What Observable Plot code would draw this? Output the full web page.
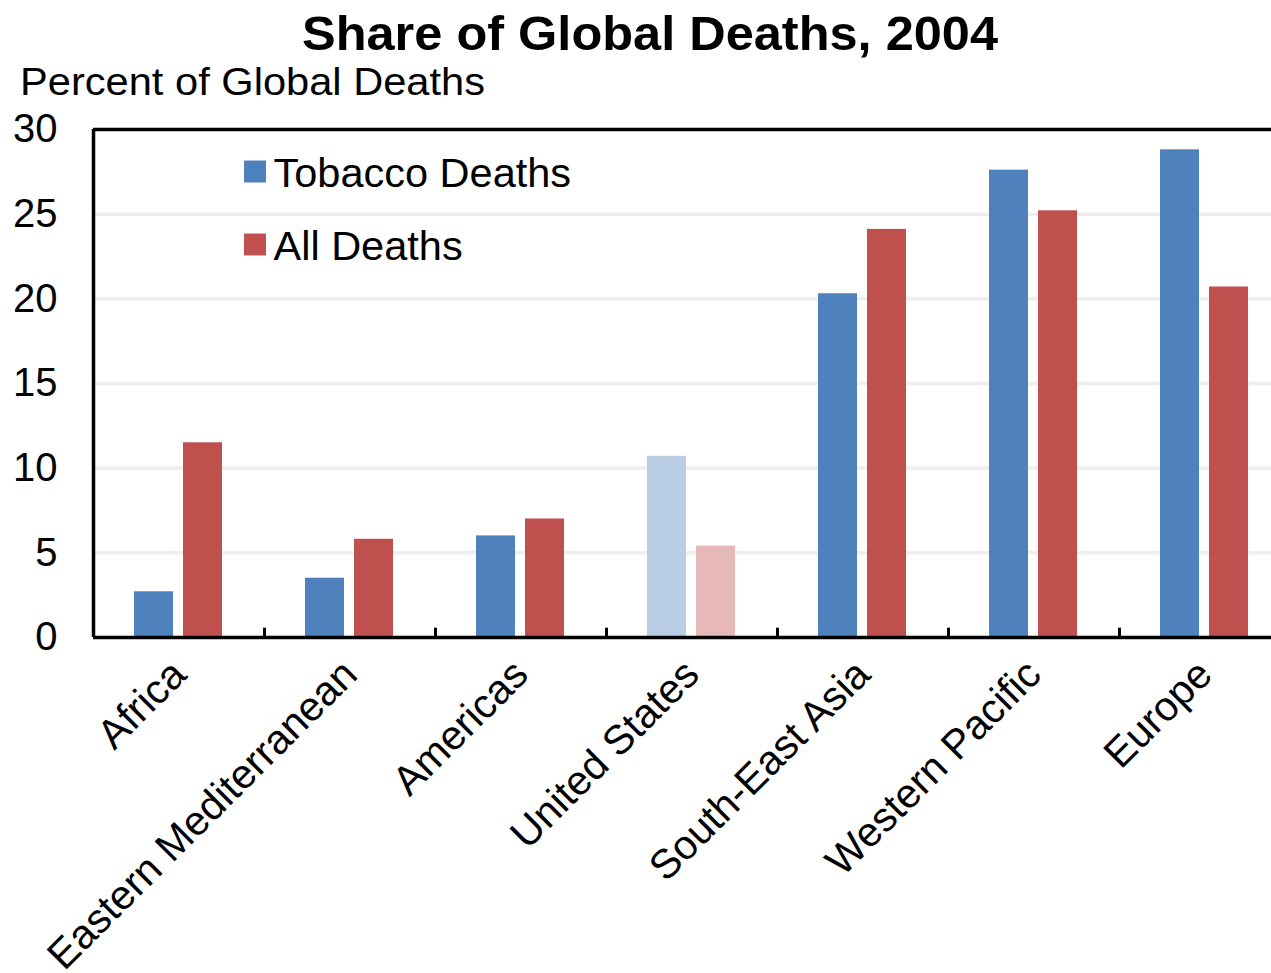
<!DOCTYPE html>
<html>
<head>
<meta charset="utf-8">
<script src="https://cdn.jsdelivr.net/npm/d3@7"></script>
<script src="https://cdn.jsdelivr.net/npm/@observablehq/plot@0.6"></script>
<style>
  body { margin: 0; background: white; font-family: "Liberation Sans", Arial, sans-serif; }
  #wrap { width: 1271px; height: 973px; overflow: hidden; position: relative; }
  #head { display: block; }
  #chart svg { overflow: hidden; }
</style>
</head>
<body>
<div id="wrap">
  <svg id="head" width="1271" height="105">
    <text id="title" x="650" y="50" text-anchor="middle" font-size="49" font-weight="bold" fill="#000" textLength="696" lengthAdjust="spacingAndGlyphs">Share of Global Deaths, 2004</text>
    <text id="ylab" x="20" y="95" font-size="38" fill="#000" textLength="465" lengthAdjust="spacingAndGlyphs">Percent of Global Deaths</text>
  </svg>
  <div id="chart"></div>
</div>
<script>
const regions = ["Africa", "Eastern Mediterranean", "Americas", "United States", "South-East Asia", "Western Pacific", "Europe"];
const tobacco = [2.7, 3.5, 6.0, 10.7, 20.3, 27.6, 28.8];
const allDeaths = [11.5, 5.8, 7.0, 5.4, 24.1, 25.2, 20.7];
const seriesNames = ["Tobacco Deaths", "All Deaths"];
const seriesColors = ["#4F81BD", "#C0504D"];
const fadedColors = ["#B9CDE5", "#E6B9B8"];
const highlightRegion = "United States";
const yTicks = [0, 5, 10, 15, 20, 25, 30];
const gridTicks = [5, 10, 15, 20, 25];

const bw = 171;
const left = 93;
const rows = regions.map((r, i) => ({
  region: r,
  tobacco: tobacco[i],
  all: allDeaths[i],
  cT: r === highlightRegion ? fadedColors[0] : seriesColors[0],
  cA: r === highlightRegion ? fadedColors[1] : seriesColors[1]
}));

const chart = Plot.plot({
  width: 1271,
  height: 868,
  marginTop: 24,
  marginBottom: 336,
  marginLeft: left,
  marginRight: 0,
  style: { fontFamily: '"Liberation Sans", Arial, sans-serif', fontSize: "40px", color: "#000", background: "white" },
  x: { domain: regions, range: [left, left + bw * regions.length], padding: 0 },
  y: { domain: [0, 30] },
  marks: [
    Plot.ruleY(gridTicks, { stroke: "#eeeeee", strokeWidth: 3.5 }),
    Plot.barY(rows, { x: "region", y: "tobacco", fill: "cT", insetLeft: 41, insetRight: bw - 80 }),
    Plot.barY(rows, { x: "region", y: "all", fill: "cA", insetLeft: 90, insetRight: bw - 129 }),
    Plot.ruleY([0, 30], { stroke: "#000", strokeWidth: 3.5 }),
    Plot.ruleX([regions[0]], { dx: -bw / 2, stroke: "#000", strokeWidth: 3.5 }),
    Plot.ruleX(regions.slice(1), { dx: -bw / 2, y1: 0, y2: 0.55, stroke: "#000", strokeWidth: 3 }),
    Plot.ruleY(yTicks, { x1: regions[0], x2: regions[0], insetRight: bw - 10, stroke: "#000", strokeWidth: 3 }),
    Plot.axisY(yTicks, { tickSize: 0, tickPadding: 36, fontSize: 40, label: null }),
    Plot.axisX({ tickRotate: -45, tickSize: 0, tickPadding: 30, fontSize: 41, label: null }),
    Plot.dot([seriesNames[0]], { frameAnchor: "top-left", dx: 161.5, dy: 42, symbol: "square", r: 12.4, fill: seriesColors[0], stroke: null }),
    Plot.dot([seriesNames[1]], { frameAnchor: "top-left", dx: 161.5, dy: 115, symbol: "square", r: 12.4, fill: seriesColors[1], stroke: null }),
    Plot.text([seriesNames[0]], { text: d => d, frameAnchor: "top-left", dx: 180, dy: 44, textAnchor: "start", lineAnchor: "middle", fontSize: 41.5, fill: "#000" }),
    Plot.text([seriesNames[1]], { text: d => d, frameAnchor: "top-left", dx: 180, dy: 117, textAnchor: "start", lineAnchor: "middle", fontSize: 41.5, fill: "#000" })
  ]
});
document.getElementById("chart").appendChild(chart);
</script>
</body>
</html>
